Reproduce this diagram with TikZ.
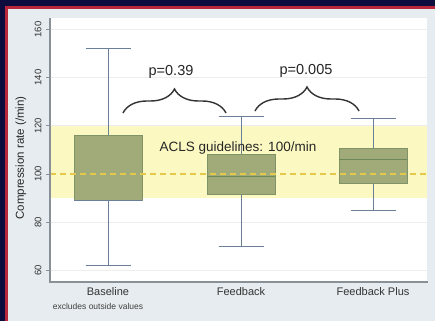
\documentclass[tikz,border=0pt]{standalone}
\usepackage{fontspec}
\setmainfont{Liberation Sans}
\usepackage{tikz}
\usetikzlibrary{decorations.pathreplacing}
\definecolor{framenavy}{HTML}{0D0C3E}
\definecolor{framered}{HTML}{B8283A}
\definecolor{panelgrey}{HTML}{E6ECEF}
\definecolor{bandyellow}{HTML}{FBF8C2}
\definecolor{boxolive}{HTML}{A0AB79}
\definecolor{boxedge}{HTML}{7F9366}
\definecolor{whiskblue}{HTML}{6B7F99}
\definecolor{medgreen}{HTML}{6C8758}
\definecolor{guidegold}{HTML}{E6C84A}
\definecolor{axisgrey}{HTML}{8A9098}

\begin{document}
\begin{tikzpicture}[x=1pt, y=1pt, line width=0.9pt, font=\fontsize{11}{13}\selectfont]

  \useasboundingbox (0,0) rectangle (435,321);

  % slide frame: navy edge, thin red rule, light panel
  \fill[framenavy] (0,0) rectangle (435,321);
  \fill[framered] (5,0) rectangle (435,315);
  \fill[panelgrey] (8,0) rectangle (435,312);

  % plot region. y is in compression-rate units (/min), x stays in pt
  \begin{scope}[yshift=-94pt, y=2.41pt]
    \fill[white] (50,55.2) rectangle (427,164.7);
    \foreach \v in {60,80,...,160}{
      \draw[black!7, line width=0.6pt] (50,\v) -- (427,\v);
      \draw[axisgrey] (46,\v) -- (50,\v);
      \node[rotate=90, font=\fontsize{9.5}{11}\selectfont, text=black!80] (tick\v) at (38,\v) {\v};
    }
    % ACLS target band, 90-120 /min
    \fill[bandyellow] (50,90) rectangle (427,120);

    % box plots: centre / box half width / low / q1 / median / q3 / high
    \foreach \cx/\hw/\lo/\qa/\md/\qb/\hi in {108/34/62/89/89/116/152,
                                             241/34/70/91.7/99/108/124,
                                             373/34/85/96/106/110.4/123}{
      \begin{scope}[shift={(\cx,0)}]
        \draw[whiskblue] (0,\lo) -- (0,\qa);
        \draw[whiskblue] (0,\qb) -- (0,\hi);
        \draw[whiskblue, line width=1.1pt] (-22.5,\lo) -- (22.5,\lo);
        \draw[whiskblue, line width=1.1pt] (-22.5,\hi) -- (22.5,\hi);
        \filldraw[fill=boxolive, draw=boxedge] (-\hw,\qa) rectangle (\hw,\qb);
        \draw[medgreen, line width=1.3pt] (-\hw,\md) -- (\hw,\md);
      \end{scope}}
    % baseline median sits on its lower quartile
    \draw[whiskblue, line width=1.3pt] (74,89) -- (142,89);

    % 100/min guideline goes over the boxes
    \draw[guidegold, line width=1.4pt, dash pattern=on 6pt off 4pt] (50,100) -- (427,100);

    % axes
    \draw[axisgrey, line width=1.8pt] (50,164.7) -- (50,55.2) -- (428,55.2);
  \end{scope}

  \node[font=\fontsize{13.5}{15}\selectfont, text=black!85] (acls) at (238,173) {ACLS guidelines: 100/min};

  % significance braces between neighbouring groups
  \draw[black!80, line width=1.4pt, decorate, decoration={brace, amplitude=24pt}]
    (123,208) -- (226,208);
  \draw[black!80, line width=1.4pt, decorate, decoration={brace, amplitude=24pt}]
    (255,210) -- (359,210);
  \node[font=\fontsize{14.5}{16}\selectfont, text=black!85] (pA) at (171,249) {p=0.39};
  \node[font=\fontsize{14.5}{16}\selectfont, text=black!85] (pB) at (306,250) {p=0.005};

  % axis titles
  \node[rotate=90, font=\fontsize{11.5}{13}\selectfont, text=black!85] (ytitle) at (21,163) {Compression rate (/min)};
  \node[text=black!80] (gBase) at (108,29) {Baseline};
  \node[text=black!80] (gFeed) at (241,29) {Feedback};
  \node[text=black!80] (gPlus) at (373,29) {Feedback Plus};
  \node[font=\fontsize{8.5}{10}\selectfont, text=black!75] (note) at (98,15) {excludes outside values};

\end{tikzpicture}
\end{document}
